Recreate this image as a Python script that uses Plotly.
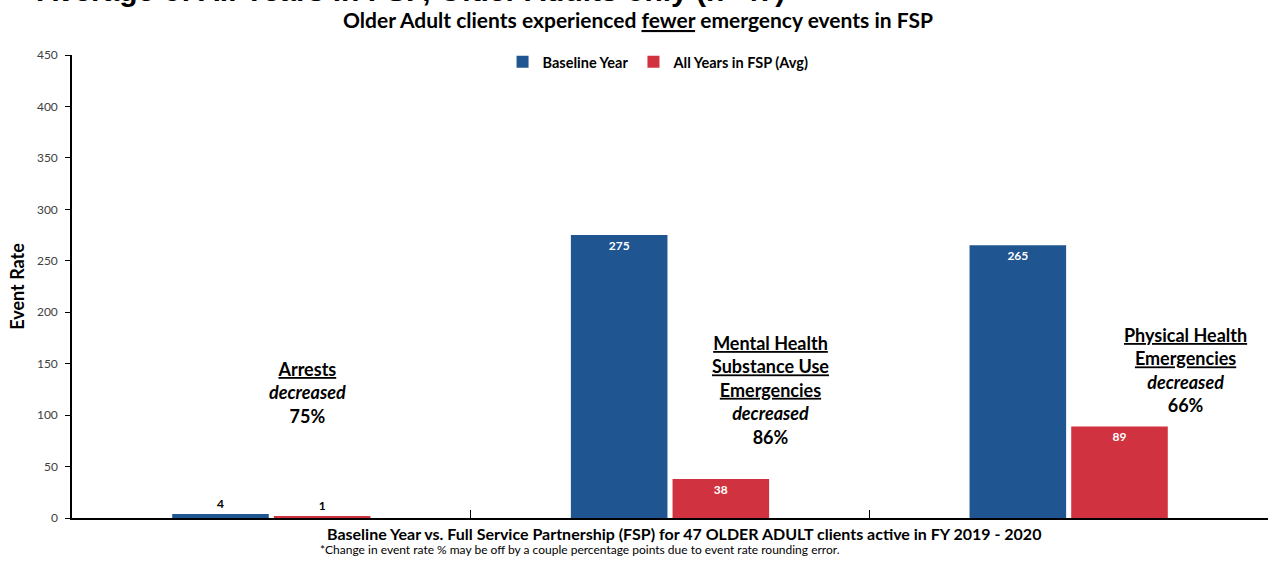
import plotly.graph_objects as go

categories = ["Arrests", "Mental Health Substance Use Emergencies", "Physical Health Emergencies"]
baseline = [4, 275, 265]
fsp_avg = [1, 38, 89]
series_names = ["Baseline Year", "All Years in FSP (Avg)"]
pct_decrease = ["75%", "86%", "66%"]
y_ticks = [0, 50, 100, 150, 200, 250, 300, 350, 400, 450]

BLUE = "#1F5591"
RED = "#D0323F"
FONT = "Lato"

fig = go.Figure()
for name, vals, col in [(series_names[0], baseline, BLUE), (series_names[1], fsp_avg, RED)]:
    fig.add_trace(go.Bar(
        x=categories, y=vals, name=name, marker=dict(color=col, line=dict(width=0)),
        text=[str(v) for v in vals], textposition="auto", insidetextanchor="end",
        insidetextfont=dict(color="white", size=12, family=FONT, weight="bold"),
        outsidetextfont=dict(color="black", size=12, family=FONT, weight="bold"),
        textfont=dict(size=12, family=FONT, weight="bold"),
        constraintext="none", cliponaxis=False,
    ))

fig.update_layout(
    width=1274, height=561,
    margin=dict(l=72, r=6, t=55, b=43),
    paper_bgcolor="white", plot_bgcolor="white",
    font=dict(family=FONT, color="black"),
    barmode="group", bargap=0.49, bargroupgap=0.05,
    showlegend=True,
    legend=dict(orientation="h", x=0.36, xanchor="left", y=0.985, yanchor="middle",
                font=dict(size=14.5, family=FONT, weight="bold"), itemwidth=30,
                tracegroupgap=0, bgcolor="rgba(0,0,0,0)"),
    xaxis=dict(showline=True, linecolor="black", linewidth=1.5, tickson="boundaries",
               ticks="inside", ticklen=8, tickcolor="black", showticklabels=False,
               showgrid=False, mirror=False),
    yaxis=dict(range=[0, 450], tickvals=y_ticks, showline=True, linecolor="black", linewidth=1.5,
               ticks="outside", ticklen=5, tickcolor="black", showgrid=False, zeroline=False,
               ticklabelstandoff=5,
               tickfont=dict(size=12, family=FONT, color="#404040"),
               title=dict(text="Event Rate", font=dict(size=18, family=FONT, weight="bold"), standoff=8)),
)

# cropped top heading
fig.add_annotation(text="Average of All Years in FSP, Older Adults only (n=47)", xref="paper", yref="paper",
                   x=-0.031, xanchor="left", y=1.139, yanchor="middle", showarrow=False,
                   font=dict(size=30, family="Liberation Sans", weight="bold", color="black"))
# subtitle
fig.add_annotation(text="Older Adult clients experienced <u>fewer</u> emergency events in FSP", xref="paper", yref="paper",
                   x=0.473, xanchor="center", y=1.077, yanchor="middle", showarrow=False,
                   font=dict(size=21, family=FONT, weight="bold", color="black"))
# x-axis title
fig.add_annotation(text="Baseline Year vs. Full Service Partnership (FSP) for 47 OLDER ADULT clients active in FY 2019 - 2020",
                   xref="paper", yref="paper", x=0.5115, xanchor="center", y=-0.0324, yanchor="middle",
                   showarrow=False, font=dict(size=16, family=FONT, weight="bold", color="black"))
# footnote
fig.add_annotation(text="*Change in event rate % may be off by a couple percentage points due to event rate rounding error.",
                   xref="paper", yref="paper", x=0.2055, xanchor="left", y=-0.069, yanchor="middle",
                   showarrow=False, font=dict(size=12, family=FONT, color="black"))

# category change annotations
labels = [
    ("<u>Arrests</u>", 0.197, 0.272),
    ("<u>Mental Health</u><br><u>Substance Use</u><br><u>Emergencies</u>", 0.584, 0.276),
    ("<u>Physical Health</u><br><u>Emergencies</u>", 0.931, 0.32),
]
for (head, xp, yp), pct in zip(labels, pct_decrease):
    fig.add_annotation(text=f"{head}<br><i>decreased</i><br>{pct}", xref="paper", yref="paper",
                       x=xp, y=yp, xanchor="center", yanchor="middle", align="center", showarrow=False,
                       font=dict(size=18, family=FONT, weight="bold", color="black"))

fig.write_html("out.html", config={"displayModeBar": False},
               post_script="document.body.style.margin='0';")
